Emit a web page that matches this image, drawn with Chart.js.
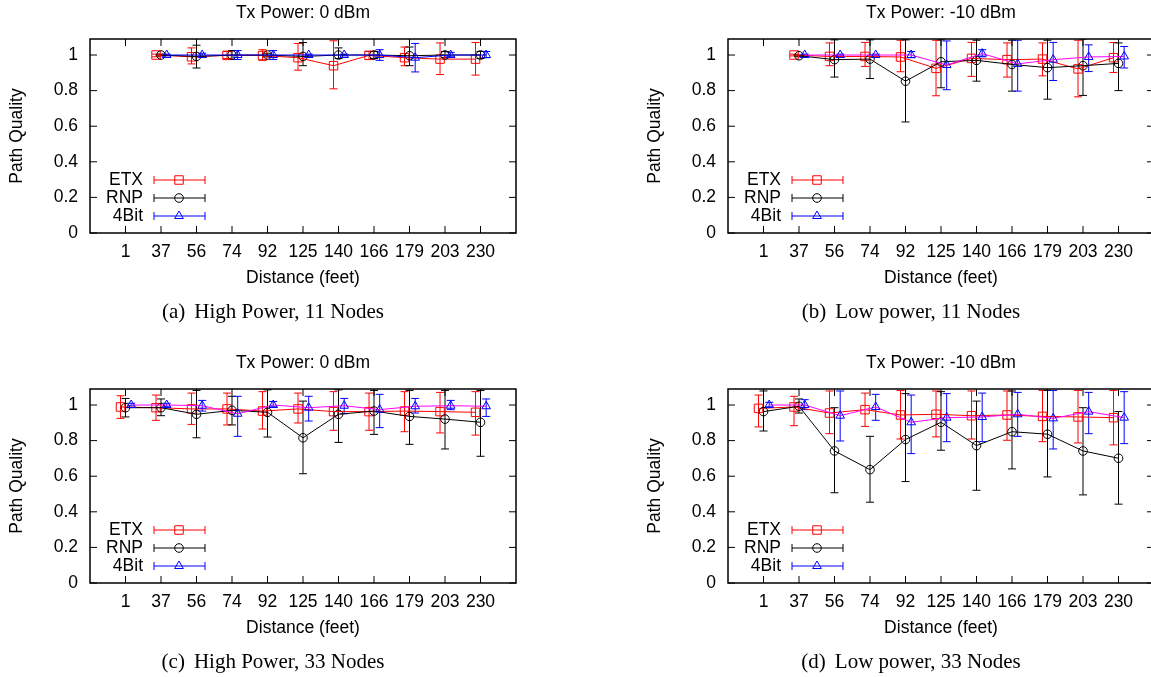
<!DOCTYPE html>
<html><head><meta charset="utf-8">
<script src="https://cdn.jsdelivr.net/npm/chart.js@4/dist/chart.umd.min.js"></script>
<style>
html,body{margin:0;padding:0;background:#fff;width:1151px;height:677px;overflow:hidden;position:relative}
canvas.pan{position:absolute}
.cap{position:absolute;font-family:"Liberation Serif","Times New Roman",serif;font-size:21px;color:#000;white-space:nowrap;transform:translate(-50%,-50%);line-height:1}
.cap .gap{display:inline-block;width:9px}
</style></head><body>
<canvas id="ca" class="pan" width="560" height="300" style="left:0px;top:0px"></canvas>
<canvas id="cb" class="pan" width="560" height="300" style="left:638px;top:0px"></canvas>
<canvas id="cc" class="pan" width="560" height="300" style="left:0px;top:350px"></canvas>
<canvas id="cd" class="pan" width="560" height="300" style="left:638px;top:350px"></canvas>
<div class="cap" style="left:273px;top:311px">(a)<span class="gap"></span>High Power, 11 Nodes</div>
<div class="cap" style="left:911px;top:311px">(b)<span class="gap"></span>Low power, 11 Nodes</div>
<div class="cap" style="left:273px;top:661px">(c)<span class="gap"></span>High Power, 33 Nodes</div>
<div class="cap" style="left:911px;top:661px">(d)<span class="gap"></span>Low power, 33 Nodes</div>
<script>
const categories = ['1','37','56','74','92','125','140','166','179','203','230'];
const yTickValues = [0, 0.2, 0.4, 0.6, 0.8, 1];
const yTickLabels = ['0', '0.2', '0.4', '0.6', '0.8', '1'];
const seriesNames = ['ETX', 'RNP', '4Bit'];

// (a) High Power, 11 Nodes
const aEtx   = [null, 1.0,  0.99,  0.998, 0.997, 0.985, 0.94,  0.998, 0.985, 0.977, 0.977];
const aEtxLo = [null, 0.99, 0.95,  0.98,  0.97,  0.915, 0.81,  0.975, 0.94,  0.89,  0.887];
const aEtxHi = [null, 1.005,1.04,  1.02,  1.03,  1.065, 1.08,  1.02,  1.045, 1.068, 1.07];
const aRnp   = [null, 1.0,  0.992, 1.0,   1.0,   0.992, 1.0,   1.0,   0.996, 1.0,   1.0];
const aRnpLo = [null, 0.995,0.927, 0.975, 0.99,  0.94,  0.98,  0.98,  0.94,  0.985, 0.98];
const aRnpHi = [null, 1.005,1.055, 1.025, 1.01,  1.07,  1.04,  1.02,  1.045, 1.02,  1.02];
const aBit   = [null, 1.0,  1.0,   1.0,   1.0,   1.0,   1.0,   1.0,   0.985, 1.0,   1.0];
const aBitLo = [null, 0.995,0.99,  0.975, 0.975, 0.995, 0.995, 0.97,  0.905, 0.99,  0.985];
const aBitHi = [null, 1.005,1.01,  1.025, 1.025, 1.005, 1.005, 1.03,  1.065, 1.015, 1.02];

// (b) Low power, 11 Nodes
const bEtx   = [null, 1.0,  0.992, 0.992, 0.989, 0.925, 0.981, 0.974, 0.977, 0.922, 0.985];
const bEtxLo = [null, 0.995,0.94,  0.936, 0.906, 0.771, 0.88,  0.876, 0.883, 0.765, 0.902];
const bEtxHi = [null, 1.005,1.068, 1.071, 1.083, 1.083, 1.071, 1.068, 1.068, 1.083, 1.07];
const bRnp   = [null, 0.996,0.974, 0.977, 0.853, 0.962, 0.97,  0.947, 0.929, 0.94,  0.953];
const bRnpLo = [null, 0.99, 0.876, 0.868, 0.624, 0.816, 0.853, 0.797, 0.752, 0.773, 0.8];
const bRnpHi = [null, 1.0,  1.085, 1.085, 1.085, 1.085, 1.083, 1.083, 1.083, 1.09,  1.068];
const bBit   = [null, 1.0,  1.0,   1.0,   1.0,   0.944, 1.008, 0.95,  0.974, 0.989, 0.992];
const bBitLo = [null, 0.995,0.995, 0.995, 0.985, 0.805, 0.99,  0.797, 0.857, 0.907, 0.927];
const bBitHi = [null, 1.005,1.005, 1.005, 1.02,  1.079, 1.03,  1.083, 1.071, 1.057, 1.048];

// (c) High Power, 33 Nodes
const cEtx   = [0.989, 0.985, 0.978, 0.978, 0.966, 0.978, 0.963, 0.963, 0.966, 0.963, 0.959];
const cEtxLo = [0.925, 0.914, 0.891, 0.888, 0.865, 0.899, 0.858, 0.858, 0.85,  0.843, 0.831];
const cEtxHi = [1.052, 1.056, 1.067, 1.067, 1.075, 1.067, 1.075, 1.067, 1.075, 1.071, 1.075];
const cRnp   = [0.985, 0.985, 0.948, 0.97,  0.959, 0.816, 0.948, 0.966, 0.936, 0.921, 0.903];
const cRnpLo = [0.933, 0.94,  0.816, 0.888, 0.82,  0.614, 0.79,  0.835, 0.779, 0.753, 0.712];
const cRnpHi = [1.037, 1.034, 1.082, 1.049, 1.085, 1.022, 1.085, 1.082, 1.082, 1.082, 1.082];
const cBit   = [1.0,   1.0,   0.996, 0.951, 1.0,   0.985, 0.996, 0.974, 0.993, 0.996, 0.993];
const cBitLo = [0.995, 0.99,  0.966, 0.824, 0.99,  0.91,  0.951, 0.873, 0.955, 0.974, 0.936];
const cBitHi = [1.01,  1.01,  1.026, 1.049, 1.02,  1.049, 1.037, 1.06,  1.037, 1.026, 1.034];

// (d) Low power, 33 Nodes
const dEtx   = [0.981, 0.989, 0.955, 0.974, 0.944, 0.948, 0.94,  0.944, 0.936, 0.933, 0.929];
const dEtxLo = [0.877, 0.884, 0.839, 0.88,  0.809, 0.821, 0.809, 0.802, 0.794, 0.787, 0.776];
const dEtxHi = [1.056, 1.049, 1.079, 1.067, 1.082, 1.079, 1.079, 1.079, 1.082, 1.082, 1.082];
const dRnp   = [0.963, 0.993, 0.742, 0.637, 0.806, 0.903, 0.772, 0.85,  0.836, 0.742, 0.701];
const dRnpLo = [0.854, 0.955, 0.507, 0.454, 0.57,  0.746, 0.521, 0.641, 0.596, 0.495, 0.443];
const dRnpHi = [1.079, 1.034, 0.985, 0.824, 1.064, 1.075, 1.022, 1.079, 1.082, 0.985, 0.963];
const dBit   = [1.0,   1.0,   0.94,  0.989, 0.903, 0.929, 0.933, 0.948, 0.925, 0.963, 0.929];
const dBitLo = [0.99,  0.974, 0.798, 0.914, 0.727, 0.794, 0.794, 0.824, 0.753, 0.839, 0.783];
const dBitHi = [1.015, 1.03,  1.079, 1.06,  1.056, 1.064, 1.067, 1.071, 1.082, 1.071, 1.075];

const SANS = '"Liberation Sans", Arial, sans-serif';
const FS = 17.5;
const RED = '#ff0000', BLACK = '#000000', BLUE = '#0000ff', MAGENTA = '#ff00ff';

function pts(vals, lo, hi, off) {
  const out = [];
  vals.forEach((v, i) => { if (v != null) out.push({x: i + off, y: v, lo: lo[i], hi: hi[i]}); });
  return out;
}

function marker(ctx, style, x, y) {
  ctx.beginPath();
  if (style === 'rect') { const s = 4.25; ctx.rect(x - s, y - s, 2 * s, 2 * s); }
  else if (style === 'circle') { ctx.arc(x, y, 4.3, 0, Math.PI * 2); }
  else { const r = 5; ctx.moveTo(x, y - r); ctx.lineTo(x + r * 0.866, y + r * 0.5); ctx.lineTo(x - r * 0.866, y + r * 0.5); ctx.closePath(); }
  ctx.stroke();
}

const errorBarPlugin = {
  id: 'errbars',
  beforeDatasetsDraw(chart) {
    const ctx = chart.ctx, ys = chart.scales.y, a = chart.chartArea;
    ctx.save();
    ctx.beginPath(); ctx.rect(a.left, a.top, a.right - a.left, a.bottom - a.top); ctx.clip();
    chart.data.datasets.forEach((ds, di) => {
      const meta = chart.getDatasetMeta(di);
      ctx.strokeStyle = ds.errColor; ctx.lineWidth = 1;
      meta.data.forEach((el, j) => {
        const p = ds.data[j];
        const x = el.x, y1 = ys.getPixelForValue(p.lo), y2 = ys.getPixelForValue(p.hi);
        ctx.beginPath();
        ctx.moveTo(x, y1); ctx.lineTo(x, y2);
        ctx.moveTo(x - 4, y1); ctx.lineTo(x + 4, y1);
        ctx.moveTo(x - 4, y2); ctx.lineTo(x + 4, y2);
        ctx.stroke();
      });
    });
    ctx.restore();
  }
};

const framePlugin = {
  id: 'frame',
  afterDraw(chart) {
    const ctx = chart.ctx, a = chart.chartArea, xs = chart.scales.x, ys = chart.scales.y;
    const opts = chart.options.plugins.frame;
    ctx.save();
    ctx.strokeStyle = '#000'; ctx.lineWidth = 1.5;
    ctx.strokeRect(a.left, a.top, a.right - a.left, a.bottom - a.top);
    ctx.lineWidth = 1;
    ctx.beginPath();
    for (let i = 0; i < categories.length; i++) {
      const x = xs.getPixelForValue(i);
      ctx.moveTo(x, a.bottom); ctx.lineTo(x, a.bottom - 7);
      ctx.moveTo(x, a.top); ctx.lineTo(x, a.top + 7);
    }
    yTickValues.forEach(v => {
      const y = ys.getPixelForValue(v);
      ctx.moveTo(a.left, y); ctx.lineTo(a.left + 7, y);
      ctx.moveTo(a.right, y); ctx.lineTo(a.right - 7, y);
    });
    ctx.stroke();
    // title
    ctx.fillStyle = '#000';
    ctx.font = FS + 'px ' + SANS;
    ctx.textAlign = 'center'; ctx.textBaseline = 'middle';
    ctx.fillText(opts.title, (a.left + a.right) / 2, 13);
    // legend
    const styles = ['rect', 'circle', 'triangle'];
    const colors = [RED, BLACK, BLUE];
    seriesNames.forEach((name, k) => {
      const y = a.bottom - 53 + 18 * k;
      ctx.fillStyle = '#000';
      ctx.textAlign = 'right';
      ctx.fillText(name, a.left + 53, y);
      ctx.strokeStyle = colors[k]; ctx.lineWidth = 1;
      const x1 = a.left + 64, x2 = a.left + 115;
      ctx.beginPath();
      ctx.moveTo(x1, y); ctx.lineTo(x2, y);
      ctx.moveTo(x1, y - 4); ctx.lineTo(x1, y + 4);
      ctx.moveTo(x2, y - 4); ctx.lineTo(x2, y + 4);
      ctx.stroke();
      marker(ctx, styles[k], a.left + 89, y);
    });
    ctx.restore();
  }
};

function buildPanel(id, title, etx, rnp, bit, bitLine) {
  const ds = [
    {label: 'ETX', data: pts(etx[0], etx[1], etx[2], -0.14), borderColor: RED, errColor: RED,
     pointStyle: 'rect', pointRadius: 6, pointBorderColor: RED, order: 3},
    {label: 'RNP', data: pts(rnp[0], rnp[1], rnp[2], 0), borderColor: BLACK, errColor: BLACK,
     pointStyle: 'circle', pointRadius: 4.3, pointBorderColor: BLACK, order: 2},
    {label: '4Bit', data: pts(bit[0], bit[1], bit[2], 0.16), borderColor: bitLine, errColor: BLUE,
     pointStyle: 'triangle', pointRadius: 5, pointBorderColor: BLUE, order: 1}
  ];
  ds.forEach(d => {
    d.borderWidth = 1; d.pointBorderWidth = 1; d.pointBackgroundColor = 'rgba(0,0,0,0)';
    d.backgroundColor = 'rgba(0,0,0,0)'; d.tension = 0; d.fill = false; d.pointHoverRadius = d.pointRadius;
  });
  return new Chart(document.getElementById(id), {
    type: 'line',
    data: {datasets: ds},
    plugins: [errorBarPlugin, framePlugin],
    options: {
      responsive: false, animation: false, devicePixelRatio: 1,
      layout: {padding: {top: 39, left: 0, right: 44, bottom: 0}},
      plugins: {legend: {display: false}, title: {display: false}, tooltip: {enabled: false}, frame: {title: title}},
      scales: {
        x: {
          type: 'linear', min: -1, max: 11,
          afterBuildTicks: s => { s.ticks = categories.map((c, i) => ({value: i})); },
          afterFit: s => { s.height = 300 - 233; },
          ticks: {callback: v => categories[v], color: '#000', font: {family: SANS, size: FS}, padding: 9, maxRotation: 0, autoSkip: false},
          grid: {display: false, drawTicks: false}, border: {display: false},
          title: {display: true, text: 'Distance (feet)', color: '#000', font: {family: SANS, size: FS}, padding: {top: 0, bottom: 11}}
        },
        y: {
          type: 'linear', min: 0, max: 1.09,
          afterBuildTicks: s => { s.ticks = yTickValues.map(v => ({value: v})); },
          afterFit: s => { s.width = 90; },
          ticks: {callback: (v, i) => yTickLabels[yTickValues.indexOf(v)], color: '#000', font: {family: SANS, size: FS}, padding: 12},
          grid: {display: false, drawTicks: false}, border: {display: false},
          title: {display: true, text: 'Path Quality', color: '#000', font: {family: SANS, size: FS}, padding: {top: 7, bottom: 0}}
        }
      }
    }
  });
}

buildPanel('ca', 'Tx Power: 0 dBm', [aEtx, aEtxLo, aEtxHi], [aRnp, aRnpLo, aRnpHi], [aBit, aBitLo, aBitHi], BLUE);
buildPanel('cb', 'Tx Power: -10 dBm', [bEtx, bEtxLo, bEtxHi], [bRnp, bRnpLo, bRnpHi], [bBit, bBitLo, bBitHi], MAGENTA);
buildPanel('cc', 'Tx Power: 0 dBm', [cEtx, cEtxLo, cEtxHi], [cRnp, cRnpLo, cRnpHi], [cBit, cBitLo, cBitHi], MAGENTA);
buildPanel('cd', 'Tx Power: -10 dBm', [dEtx, dEtxLo, dEtxHi], [dRnp, dRnpLo, dRnpHi], [dBit, dBitLo, dBitHi], MAGENTA);
</script>
</body></html>
